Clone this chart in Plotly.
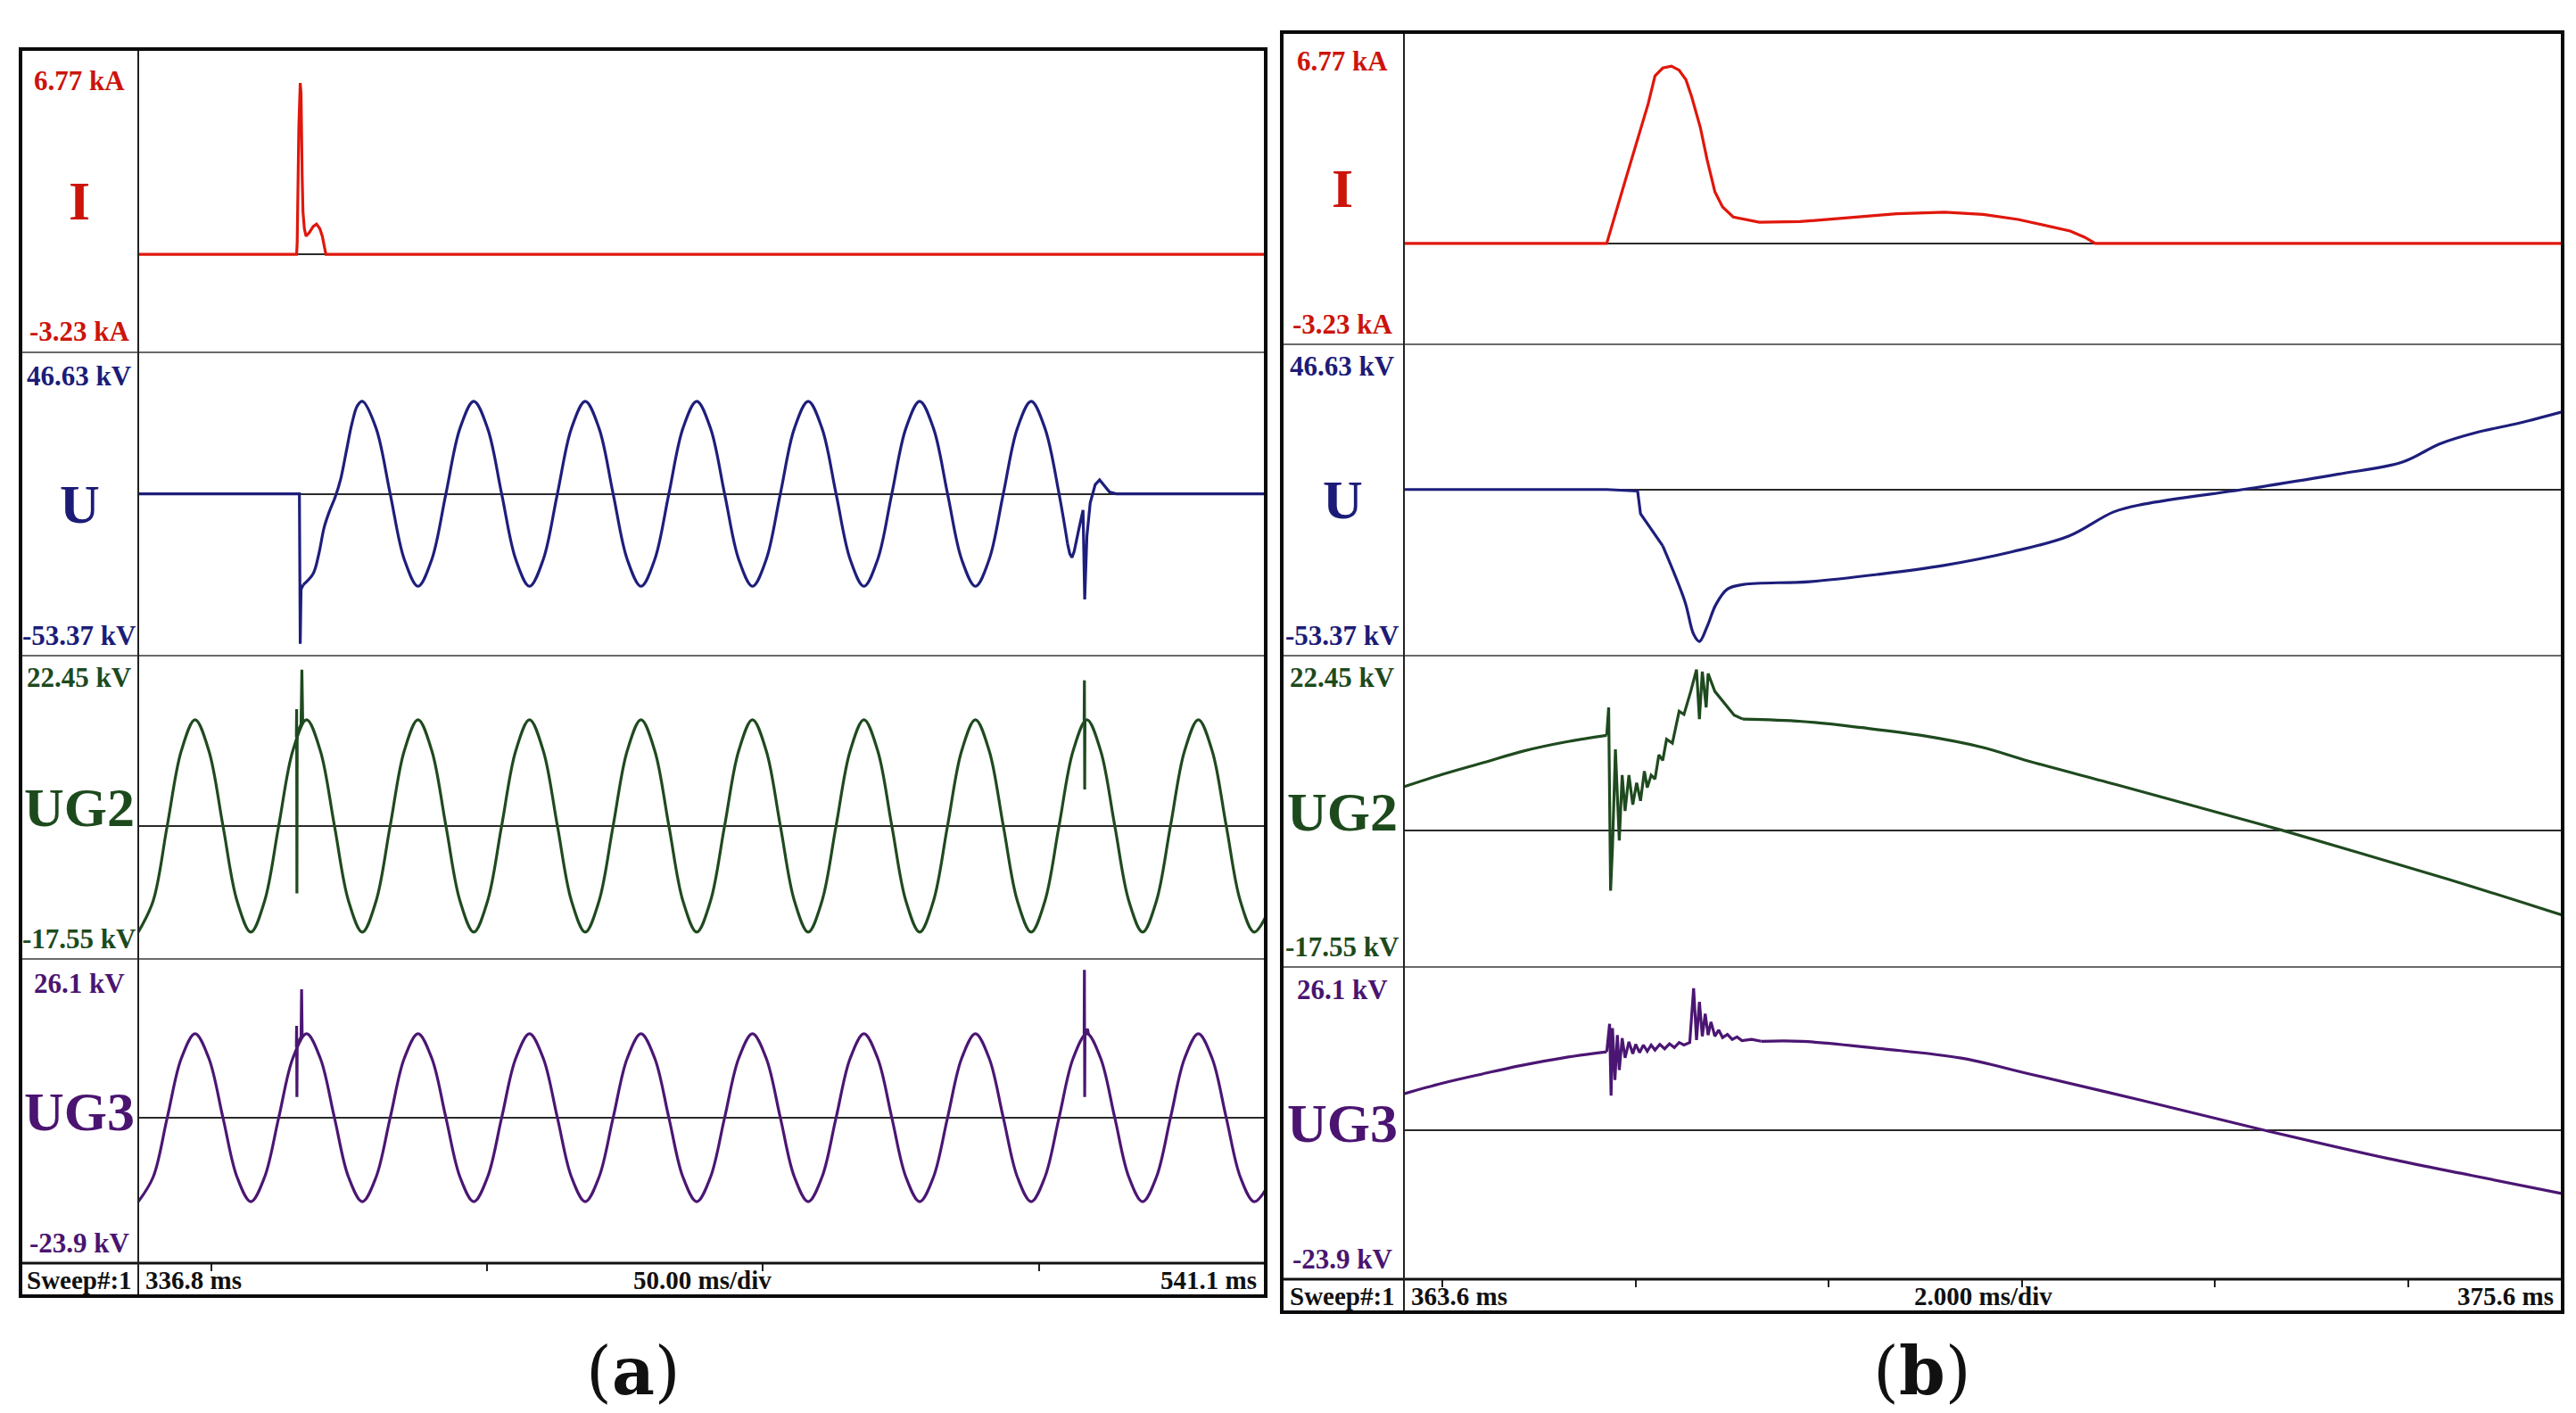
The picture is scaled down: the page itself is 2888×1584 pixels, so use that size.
import plotly.graph_objects as go

W, H = 2888, 1584

# ---------------- data ----------------
CHANNELS = ["I", "U", "UG2", "UG3"]
Y_MAX = [6.77, 46.63, 22.45, 26.1]
Y_MIN = [-3.23, -53.37, -17.55, -23.9]
MAX_LABELS = ["6.77 kA", "46.63 kV", "22.45 kV", "26.1 kV"]
MIN_LABELS = ["-3.23 kA", "-53.37 kV", "-17.55 kV", "-23.9 kV"]

A_RANGE = [336.8, 541.1]          # ms
B_RANGE = [363.6, 375.6]          # ms
A_TICKS = [350, 400, 450, 500]
B_TICKS = [364, 366, 368, 370, 372, 374]
A_FOOTER = ["Sweep#:1", "336.8 ms", "50.00 ms/div", "541.1 ms"]
B_FOOTER = ["Sweep#:1", "363.6 ms", "2.000 ms/div", "375.6 ms"]
PANEL_NAMES = ["a", "b"]

# ---- panel (a) ----
A_I_T = [336.8, 365.5, 365.6, 365.9, 366.15, 366.3, 366.5, 366.65, 366.9, 367.2, 367.8, 368.5,
         369.1, 369.7, 370.15, 370.5, 370.8, 541.1]
A_I_V = [0.0, 0.0, 0.4, 4.2, 5.65, 5.3, 2.6, 1.4, 0.85, 0.6, 0.72, 0.92,
         1.0, 0.85, 0.6, 0.25, 0.0, 0.0]

A_U_PRE_T = [336.8, 366.0, 366.15, 366.3, 366.7]
A_U_PRE_V = [0.0, 0.0, -49.5, -31.5, -30.0]

A_U_WAVE_T = [366.7, 368.5, 369.5, 370.5, 371.5, 372.5, 373.5, 374.5, 375.5, 376.5,
              377.4, 379.9, 382.45, 385.0, 387.5, 390.0, 392.55, 395.1,
              397.6, 400.1, 402.65, 405.2, 407.7, 410.2, 412.75, 415.3,
              417.8, 420.3, 422.85, 425.4, 427.9, 430.4, 432.95, 435.5,
              438.0, 440.5, 443.05, 445.6, 448.1, 450.6, 453.15, 455.7,
              458.2, 460.7, 463.25, 465.8, 468.3, 470.8, 473.35, 475.9,
              478.4, 480.9, 483.45, 486.0, 488.5, 491.0, 493.55, 496.1,
              498.6, 501.1, 503.65, 505.2]
A_U_WAVE_V = [-30.0, -26.3, -20.0, -11.0, -5.5, -1.0, 5.0, 14.0, 23.0, 29.0,
              30.5, 21.6, 0.0, -21.6, -30.5, -21.6, 0.0, 21.6,
              30.5, 21.6, 0.0, -21.6, -30.5, -21.6, 0.0, 21.6,
              30.5, 21.6, 0.0, -21.6, -30.5, -21.6, 0.0, 21.6,
              30.5, 21.6, 0.0, -21.6, -30.5, -21.6, 0.0, 21.6,
              30.5, 21.6, 0.0, -21.6, -30.5, -21.6, 0.0, 21.6,
              30.5, 21.6, 0.0, -21.6, -30.5, -21.6, 0.0, 21.6,
              30.5, 21.6, 0.0, -16.5]

A_U_POST_T = [505.2, 505.6, 506.0, 506.4, 507.2, 508.0, 508.3, 508.7, 509.3, 510.2,
              511.0, 511.8, 512.8, 514.0, 541.1]
A_U_POST_V = [-16.5, -19.8, -21.0, -19.0, -12.0, -5.4, -34.8, -14.0, -3.0, 3.0,
              4.6, 2.8, 0.6, 0.0, 0.0]

A_WAVE_T = [336.8, 339.5, 342.05, 344.6, 347.1, 349.6, 352.15, 354.7,
            357.2, 359.7, 362.25, 364.8, 367.3, 369.8, 372.35, 374.9,
            377.4, 379.9, 382.45, 385.0, 387.5, 390.0, 392.55, 395.1,
            397.6, 400.1, 402.65, 405.2, 407.7, 410.2, 412.75, 415.3,
            417.8, 420.3, 422.85, 425.4, 427.9, 430.4, 432.95, 435.5,
            438.0, 440.5, 443.05, 445.6, 448.1, 450.6, 453.15, 455.7,
            458.2, 460.7, 463.25, 465.8, 468.3, 470.8, 473.35, 475.9,
            478.4, 480.9, 483.45, 486.0, 488.5, 491.0, 493.55, 496.1,
            498.6, 501.1, 503.65, 506.2, 508.7, 511.2, 513.75, 516.3,
            518.8, 521.3, 523.85, 526.4, 528.9, 531.4, 533.95, 536.5,
            539.0, 541.1]
A_UG2_V = [-14.0, -9.9, 0.0, 9.9, 14.0, 9.9, 0.0, -9.9,
           -14.0, -9.9, 0.0, 9.9, 14.0, 9.9, 0.0, -9.9,
           -14.0, -9.9, 0.0, 9.9, 14.0, 9.9, 0.0, -9.9,
           -14.0, -9.9, 0.0, 9.9, 14.0, 9.9, 0.0, -9.9,
           -14.0, -9.9, 0.0, 9.9, 14.0, 9.9, 0.0, -9.9,
           -14.0, -9.9, 0.0, 9.9, 14.0, 9.9, 0.0, -9.9,
           -14.0, -9.9, 0.0, 9.9, 14.0, 9.9, 0.0, -9.9,
           -14.0, -9.9, 0.0, 9.9, 14.0, 9.9, 0.0, -9.9,
           -14.0, -9.9, 0.0, 9.9, 14.0, 9.9, 0.0, -9.9,
           -14.0, -9.9, 0.0, 9.9, 14.0, 9.9, 0.0, -9.9,
           -14.0, -12.0]
A_UG3_V = [-13.8, -9.75, 0.0, 9.75, 13.8, 9.75, 0.0, -9.75,
           -13.8, -9.75, 0.0, 9.75, 13.8, 9.75, 0.0, -9.75,
           -13.8, -9.75, 0.0, 9.75, 13.8, 9.75, 0.0, -9.75,
           -13.8, -9.75, 0.0, 9.75, 13.8, 9.75, 0.0, -9.75,
           -13.8, -9.75, 0.0, 9.75, 13.8, 9.75, 0.0, -9.75,
           -13.8, -9.75, 0.0, 9.75, 13.8, 9.75, 0.0, -9.75,
           -13.8, -9.75, 0.0, 9.75, 13.8, 9.75, 0.0, -9.75,
           -13.8, -9.75, 0.0, 9.75, 13.8, 9.75, 0.0, -9.75,
           -13.8, -9.75, 0.0, 9.75, 13.8, 9.75, 0.0, -9.75,
           -13.8, -9.75, 0.0, 9.75, 13.8, 9.75, 0.0, -9.75,
           -13.8, -11.8]

A_UG2_SPIKE1_T = [365.45, 365.5, 365.55, 365.6, 366.3, 366.45, 366.6]
A_UG2_SPIKE1_V = [11.7, 15.4, -8.9, 12.2, 13.4, 20.6, 13.8]
A_UG2_SPIKE2_T = [508.2, 508.25, 508.3, 508.35]
A_UG2_SPIKE2_V = [13.9, 19.2, 4.8, 13.95]
A_UG3_SPIKE1_T = [365.45, 365.5, 365.55, 365.6, 366.3, 366.4, 366.5]
A_UG3_SPIKE1_V = [11.6, 15.1, 3.4, 12.0, 13.3, 21.1, 13.6]
A_UG3_SPIKE2_T = [508.2, 508.25, 508.3, 508.35, 508.8, 509.0]
A_UG3_SPIKE2_V = [13.7, 24.3, 3.4, 13.8, 14.6, 13.7]

# ---- panel (b) ----
B_I_T = [363.6, 365.7, 365.9, 366.13, 366.2, 366.28, 366.37, 366.45, 366.52, 366.58, 366.67,
         366.74, 366.82, 366.9, 367.01, 367.28, 367.7, 368.2, 368.7, 369.2, 369.6, 369.96,
         370.3, 370.5, 370.65, 370.76, 375.6]
B_I_V = [0.0, 0.0, 2.1, 4.48, 5.37, 5.62, 5.68, 5.55, 5.25, 4.7, 3.71,
         2.68, 1.66, 1.17, 0.85, 0.68, 0.7, 0.83, 0.95, 1.0, 0.93, 0.77,
         0.55, 0.4, 0.2, 0.0, 0.0]

B_U_PRE_T = [363.6, 365.7, 366.02, 366.05, 366.28]
B_U_PRE_V = [0.0, 0.0, -0.5, -7.8, -18.1]
B_U_POST_T = [366.28, 366.51, 366.6, 366.66, 366.74, 366.83, 366.95, 367.12, 367.8, 368.5,
              369.19, 369.9, 370.49, 370.95, 371.26, 372.4, 373.27, 373.94, 374.33, 374.71,
              375.09, 375.6]
B_U_POST_V = [-18.1, -36.0, -46.5, -48.8, -44.0, -37.0, -32.0, -30.5, -29.6, -27.3,
              -24.4, -20.0, -14.9, -7.2, -4.7, 0.5, 4.9, 8.8, 14.7, 18.35,
              20.9, 25.0]

B_UG2_PRE_T = [363.6, 364.0, 364.42, 364.84, 365.25, 365.7]
B_UG2_PRE_V = [5.6, 7.2, 8.7, 10.2, 11.3, 12.2]
B_UG2_BURST_T = [365.7, 365.72, 365.74, 365.76, 365.79, 365.83, 365.86, 365.89, 365.93, 365.97,
                 366.01, 366.05, 366.09, 366.12, 366.16, 366.2, 366.24, 366.28, 366.32, 366.38,
                 366.45, 366.5, 366.57, 366.63, 366.66, 366.69, 366.73, 366.75, 366.82, 366.9,
                 367.02, 367.11]
B_UG2_BURST_V = [12.2, 15.8, -7.75, -2.1, 10.4, -1.3, 7.1, 2.5, 7.1, 3.3,
                 6.1, 3.8, 7.6, 5.5, 7.1, 6.6, 9.7, 9.0, 11.7, 11.2,
                 15.3, 14.9, 17.85, 20.66, 14.3, 20.4, 15.8, 20.15, 17.85, 16.6,
                 14.8, 14.3]
B_UG2_POST_T = [367.11, 367.72, 368.34, 368.96, 369.58, 370.07, 371.0, 372.0, 372.7, 373.5,
                374.5, 375.6]
B_UG2_POST_V = [14.3, 14.0, 13.2, 12.2, 10.7, 8.9, 5.8, 2.4, 0.0, -2.9,
                -6.6, -10.9]

B_UG3_PRE_T = [363.6, 364.0, 364.42, 364.84, 365.25, 365.7]
B_UG3_PRE_V = [5.8, 7.5, 9.0, 10.4, 11.55, 12.5]
B_UG3_BURST_T = [365.7, 365.73, 365.745, 365.76, 365.785, 365.81, 365.83, 365.86, 365.89, 365.93,
                 365.97, 366.0, 366.04, 366.08, 366.12, 366.16, 366.2, 366.25, 366.3, 366.35,
                 366.4, 366.45, 366.5, 366.56, 366.6, 366.63, 366.66, 366.69, 366.72, 366.75,
                 366.78, 366.82, 366.86, 366.9, 366.95, 367.0, 367.05, 367.1, 367.2, 367.3]
B_UG3_BURST_V = [12.5, 17.0, 5.5, 16.3, 8.0, 15.2, 9.6, 14.7, 11.55, 14.1,
                 12.2, 13.7, 12.4, 13.6, 12.6, 13.6, 12.8, 13.7, 13.0, 13.8,
                 13.2, 14.0, 13.6, 14.0, 22.7, 14.4, 20.5, 15.0, 18.6, 15.2,
                 17.3, 15.0, 16.0, 14.8, 15.3, 14.5, 14.9, 14.3, 14.5, 14.2]
B_UG3_POST_T = [367.3, 367.72, 368.55, 369.37, 370.07, 371.25, 372.5, 373.8, 374.66, 375.6]
B_UG3_POST_V = [14.2, 14.2, 13.0, 11.5, 9.0, 4.7, 0.0, -4.6, -7.3, -10.2]

# ---------------- styling / geometry (pixels) ----------------
TRACE_COLORS = ["#e0170c", "#1e1e7c", "#1f4a1f", "#4b1673"]
TEXT_COLORS = ["#cc140a", "#1c1c78", "#1d4a1d", "#4a1470"]
FONT = "Liberation Serif"
PANELS = [
    dict(left=15, col=147, right=1411, rows=[47, 387, 727, 1067, 1408], bottom=1445,
         rng=A_RANGE, ticks=A_TICKS, footer=A_FOOTER, top_off=[35, 26, 25, 27], label_x=702),
    dict(left=1429, col=1566, right=2865, rows=[28, 378, 727, 1076, 1426], bottom=1463,
         rng=B_RANGE, ticks=B_TICKS, footer=B_FOOTER, top_off=[33, 24, 25, 25], label_x=2147),
]


def px(x):
    return x / W


def py(y):
    return 1 - y / H


fig = go.Figure()
layout = dict(width=W, height=H, autosize=False, margin=dict(l=0, r=0, t=0, b=0, pad=0),
              paper_bgcolor="white", plot_bgcolor="white", showlegend=False)

for p, P in enumerate(PANELS):
    for r in range(4):
        k = p * 4 + r + 1
        xs = "" if k == 1 else str(k)
        bottom_row = (r == 3)
        layout["xaxis" + xs] = dict(
            domain=[px(P["col"]), px(P["right"])], range=P["rng"], anchor="y" + xs,
            showgrid=False, zeroline=False, showline=False, showticklabels=False,
            ticks="outside" if bottom_row else "", tickvals=P["ticks"] if bottom_row else [],
            ticklen=8, tickwidth=2, tickcolor="#222", fixedrange=True)
        layout["yaxis" + xs] = dict(
            domain=[py(P["rows"][r + 1]), py(P["rows"][r])], range=[Y_MIN[r], Y_MAX[r]],
            anchor="x" + xs, showgrid=False, showticklabels=False, showline=False,
            zeroline=True, zerolinecolor="#2a2a2a", zerolinewidth=2, fixedrange=True)


def add(t, v, panel, row, shape="linear"):
    k = panel * 4 + row + 1
    xs = "" if k == 1 else str(k)
    fig.add_trace(go.Scatter(x=t, y=v, mode="lines", hoverinfo="skip",
                             line=dict(color=TRACE_COLORS[row], width=3.2, shape=shape),
                             xaxis="x" + xs, yaxis="y" + xs))


# panel (a)
add(A_I_T, A_I_V, 0, 0)
add(A_U_PRE_T, A_U_PRE_V, 0, 1)
add(A_U_WAVE_T, A_U_WAVE_V, 0, 1, "spline")
add(A_U_POST_T, A_U_POST_V, 0, 1)
add(A_WAVE_T, A_UG2_V, 0, 2, "spline")
add(A_UG2_SPIKE1_T, A_UG2_SPIKE1_V, 0, 2)
add(A_UG2_SPIKE2_T, A_UG2_SPIKE2_V, 0, 2)
add(A_WAVE_T, A_UG3_V, 0, 3, "spline")
add(A_UG3_SPIKE1_T, A_UG3_SPIKE1_V, 0, 3)
add(A_UG3_SPIKE2_T, A_UG3_SPIKE2_V, 0, 3)
# panel (b)
add(B_I_T, B_I_V, 1, 0)
add(B_U_PRE_T, B_U_PRE_V, 1, 1)
add(B_U_POST_T, B_U_POST_V, 1, 1, "spline")
add(B_UG2_PRE_T, B_UG2_PRE_V, 1, 2, "spline")
add(B_UG2_BURST_T, B_UG2_BURST_V, 1, 2)
add(B_UG2_POST_T, B_UG2_POST_V, 1, 2, "spline")
add(B_UG3_PRE_T, B_UG3_PRE_V, 1, 3, "spline")
add(B_UG3_BURST_T, B_UG3_BURST_V, 1, 3)
add(B_UG3_POST_T, B_UG3_POST_V, 1, 3, "spline")

shapes = []
annotations = []


def line(x0, y0, x1, y1, color, width):
    shapes.append(dict(type="line", xref="paper", yref="paper", x0=px(x0), y0=py(y0),
                       x1=px(x1), y1=py(y1), line=dict(color=color, width=width)))


def text(x, y, s, color, size, xanchor="center", weight="bold", family=FONT):
    annotations.append(dict(x=px(x), y=py(y), xref="paper", yref="paper", text=s,
                            showarrow=False, xanchor=xanchor, yanchor="middle",
                            font=dict(family=family, size=size, color=color, weight=weight)))


for p, P in enumerate(PANELS):
    L, C, R, B = P["left"], P["col"], P["right"], P["bottom"]
    rows = P["rows"]
    for y in rows[1:4]:
        line(L, y, R, y, "#6a6a6a", 2)
    line(L, rows[4], R, rows[4], "#111", 3)
    line(C, rows[0], C, B, "#222", 2)
    shapes.append(dict(type="rect", xref="paper", yref="paper", x0=px(L), y0=py(B),
                       x1=px(R), y1=py(rows[0]), line=dict(color="#0a0a0a", width=4)))
    cx = (L + C) / 2
    for r in range(4):
        text(cx, rows[r] + P["top_off"][r], MAX_LABELS[r], TEXT_COLORS[r], 31)
        text(cx, rows[r + 1] - 23, MIN_LABELS[r], TEXT_COLORS[r], 31)
        text(cx, (rows[r] + rows[r + 1]) / 2, CHANNELS[r], TEXT_COLORS[r], 62)
    fy = (rows[4] + B) / 2
    f = P["footer"]
    text(cx, fy, f[0], "#111", 29)
    text(C + 6, fy, f[1], "#111", 29, xanchor="left")
    text((C + R) / 2, fy, f[2], "#111", 29)
    text(R - 8, fy, f[3], "#111", 29, xanchor="right")
    text(P["label_x"], 1529, "(<b>" + PANEL_NAMES[p] + "</b>)", "#111", 74,
         weight="normal", family="DejaVu Serif")

layout["shapes"] = shapes
layout["annotations"] = annotations
fig.update_layout(**layout)
fig.write_html("out.html", config={"displayModeBar": False})
